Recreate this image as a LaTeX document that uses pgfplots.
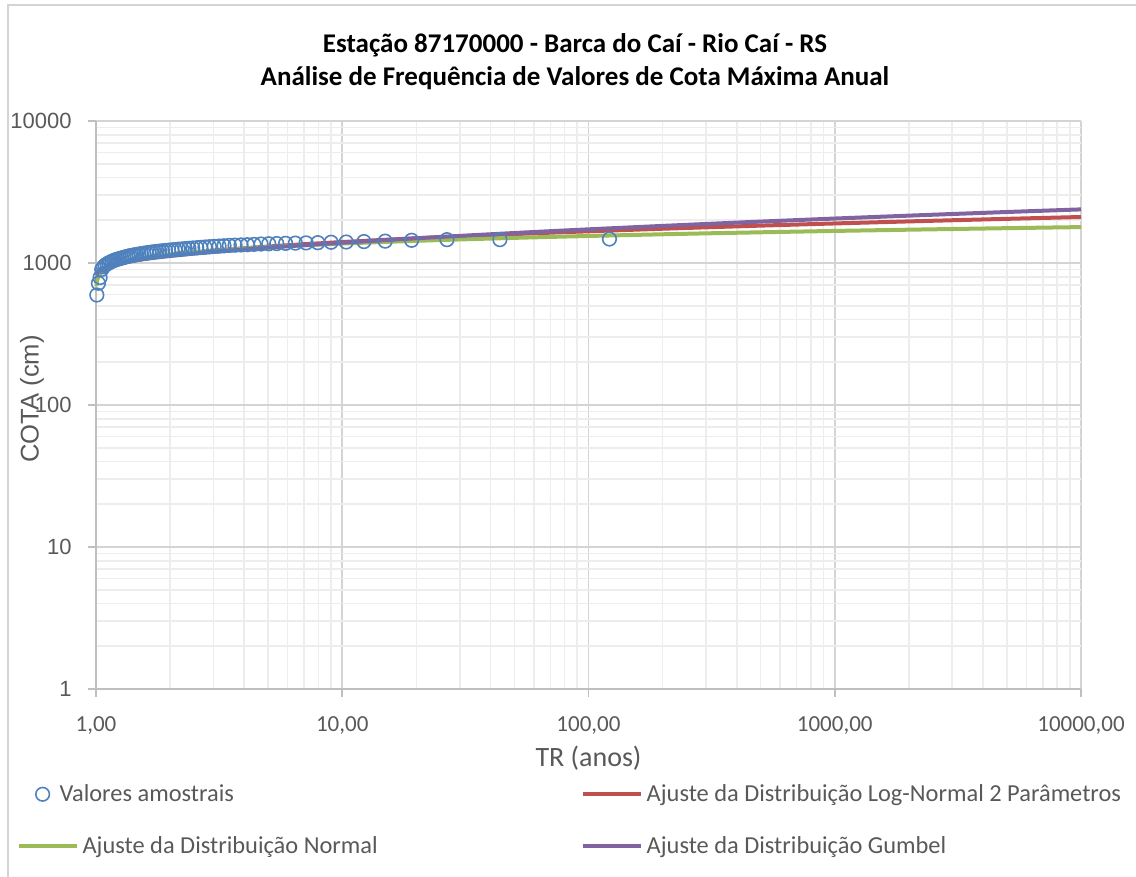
\documentclass[border=0pt]{standalone}
\usepackage{pgfplots}
\pgfplotsset{compat=1.18}
\usepackage{fontspec}
\setmainfont{Carlito}
\newfontfamily\arialf{Liberation Sans}
\definecolor{txt}{HTML}{595959}
\definecolor{cblue}{HTML}{4F81BD}
\definecolor{cred}{HTML}{C0504D}
\definecolor{cgreen}{HTML}{9BBB59}
\definecolor{cpurple}{HTML}{8064A2}
\definecolor{gmaj}{HTML}{D4D4D4}
\definecolor{gmin}{HTML}{EDEDED}
\definecolor{axc}{HTML}{BFBFBF}
\pgfplotsset{
  lineleg/.style={legend image code/.code={\draw[##1] (0pt,0pt) -- (29pt,0pt);}},
  circleg/.style={legend image code/.code={\path (0pt,0pt); \draw[##1] plot coordinates {(12pt,0pt)};}},
}

\begin{document}
\begin{tikzpicture}
\path[use as bounding box] (0pt,0pt) rectangle (568pt,438.5pt);
\draw[color=gmaj, line width=0.8pt] (4pt,0pt) -- (4pt,436pt) -- (568pt,436pt);
\node[font=\bfseries\fontsize{13.5}{16}\selectfont] at (287.5pt,416pt) {Estação 87170000 - Barca do Caí - Rio Caí - RS};
\node[font=\bfseries\fontsize{13.5}{16}\selectfont] at (287.5pt,399.5pt) {Análise de Frequência de Valores de Cota Máxima Anual};
\begin{axis}[
  at={(48pt,94pt)}, anchor=south west,
  scale only axis, width=492.5pt, height=284pt,
  xmode=log, ymode=log,
  xmin=1, xmax=10000, ymin=1, ymax=10000,
  axis x line*=bottom, axis y line*=left,
  axis line style={-, color=axc, line width=0.9pt},
  xtick={1,10,100,1000,10000},
  xticklabels={{1,00},{10,00},{100,00},{1000,00},{10000,00}},
  ytick={1,10,100,1000,10000},
  yticklabels={1,10,100,1000,10000},
  tick align=outside, major tick length=4pt, minor tick length=0pt,
  tick style={color=axc, line width=0.9pt},
  grid=both,
  major grid style={color=gmaj, line width=0.8pt},
  minor grid style={color=gmin, line width=0.8pt},
  xticklabel style={font=\fontsize{11.5}{13}\selectfont, text=txt, anchor=center, yshift=-14.5pt},
  yticklabel style={font=\arialf\fontsize{11}{12}\selectfont, text=txt, anchor=east, inner sep=0pt, xshift=-8pt},
  xlabel={TR (anos)}, ylabel={COTA (cm)},
  xlabel style={font=\fontsize{14}{16}\selectfont, text=txt, at={(axis description cs:0.5,0)}, anchor=center, yshift=-34.5pt},
  ylabel style={font=\arialf\fontsize{12.8}{14}\selectfont, text=txt, at={(axis description cs:0,0.5)}, anchor=center, yshift=32pt, xshift=3pt},
  clip=false,
  legend columns=2,
  legend cell align=left,
  legend style={at={(axis description cs:-0.081,-0.16)}, anchor=north west, draw=none, fill=none,
    font=\fontsize{12.2}{15}\selectfont, text=txt, inner sep=0pt,
    /tikz/every odd column/.append style={column sep=0pt},
    /tikz/every even column/.append style={column sep=99.5pt},
    row sep=12pt},
]
\addplot[only marks, mark=o, mark size=3.4pt, color=cblue, mark options={line width=0.8pt}, circleg] table {
T V
121.64 1475
43.67 1460
26.61 1460
19.13 1445
14.94 1425
12.25 1415
10.38 1405
9.01 1400
7.96 1390
7.13 1385
6.45 1380
5.89 1375
5.42 1370
5.03 1365
4.68 1360
4.38 1352
4.12 1345
3.88 1340
3.67 1335
3.48 1330
3.31 1322
3.16 1315
3.02 1310
2.89 1302
2.77 1295
2.66 1288
2.565 1280
2.47 1275
2.385 1268
2.304 1262
2.229 1255
2.158 1250
2.092 1243
2.030 1237
1.971 1230
1.916 1225
1.863 1218
1.814 1212
1.767 1205
1.722 1200
1.679 1192
1.639 1185
1.601 1178
1.564 1170
1.529 1163
1.495 1155
1.463 1148
1.432 1140
1.403 1132
1.375 1125
1.347 1115
1.321 1105
1.296 1095
1.272 1085
1.249 1075
1.226 1065
1.204 1055
1.183 1042
1.163 1030
1.144 1015
1.125 1000
1.107 985
1.089 965
1.072 940
1.055 900
1.039 790
1.023 720
1.008 595
};
\addlegendentry{\hspace*{-11.5pt}Valores amostrais}
\addplot[color=cred, line width=2pt, no marks, lineleg] table {
T V
1.0036 725
1.01 770
1.02 805
1.05 860
1.1 909
1.2 966
1.3 1004
1.5 1056
1.75 1101
2 1135
2.5 1184
3 1219
4 1270
5 1306
7 1356
10 1405
15 1457
20 1493
30 1540
50 1598
75 1642
100 1672
200 1743
300 1783
500 1833
1000 1899
2000 1963
3000 2000
5000 2046
10000 2108
};
\addlegendentry{Ajuste da Distribuição Log-Normal 2 Parâmetros}
\addplot[color=cgreen, line width=2pt, no marks, lineleg] table {
T V
1.0036 688
1.01 749
1.02 795
1.05 863
1.1 920
1.2 984
1.3 1023
1.5 1076
1.75 1119
2 1150
2.5 1194
3 1224
4 1266
5 1295
7 1334
10 1371
15 1408
20 1433
30 1465
50 1503
75 1531
100 1550
200 1593
300 1617
500 1645
1000 1682
2000 1716
3000 1735
5000 1759
10000 1790
};
\addlegendentry{Ajuste da Distribuição Normal}
\addplot[color=cpurple, line width=2pt, no marks, lineleg] table {
T V
1.0036 821
1.01 849
1.02 872
1.05 909
1.1 943
1.2 985
1.3 1013
1.5 1055
1.75 1092
2 1120
2.5 1164
3 1197
4 1246
5 1283
7 1335
10 1390
15 1450
20 1493
30 1552
50 1626
75 1685
100 1726
200 1825
300 1883
500 1957
1000 2056
2000 2155
3000 2213
5000 2286
10000 2385
};
\addlegendentry{Ajuste da Distribuição Gumbel}
\end{axis}
\end{tikzpicture}
\end{document}
